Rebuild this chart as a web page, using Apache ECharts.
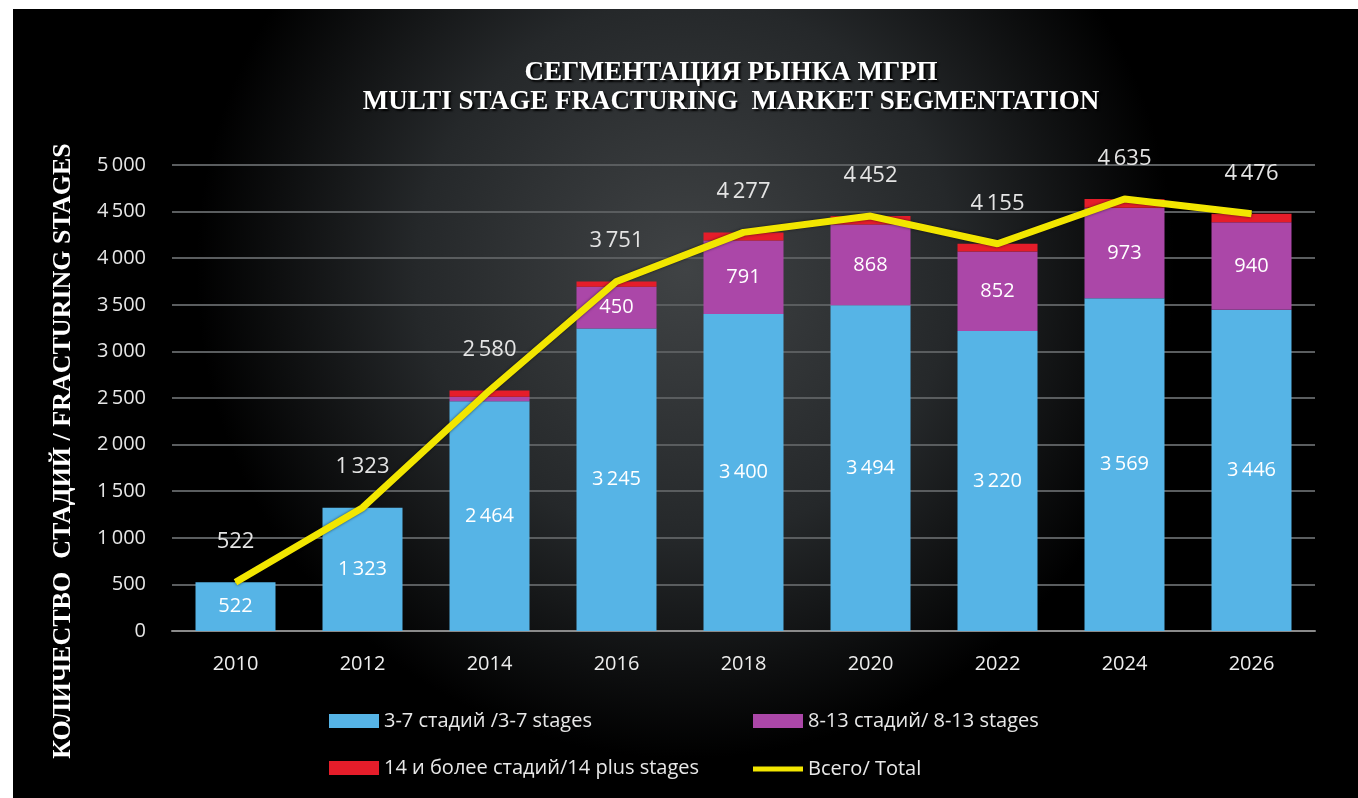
<!DOCTYPE html>
<html><head><meta charset="utf-8">
<script src="https://cdn.jsdelivr.net/npm/echarts@6/dist/echarts.min.js"></script>
<style>html,body{margin:0;padding:0;background:#fff;width:1358px;height:798px;overflow:hidden}
#c{position:absolute;left:13px;top:9px;width:1345px;height:789px}</style>
</head><body><div id="c"></div>
<script>
const years = ['2010','2012','2014','2016','2018','2020','2022','2024','2026'];
const stages3to7 = [522, 1323, 2464, 3245, 3400, 3494, 3220, 3569, 3446];
const stages8to13 = [0, 0, 50, 450, 791, 868, 852, 973, 940];
const stages14plus = [0, 0, 66, 56, 86, 90, 83, 93, 90];
const totals = [522, 1323, 2580, 3751, 4277, 4452, 4155, 4635, 4476];
const yTicks = [0, 500, 1000, 1500, 2000, 2500, 3000, 3500, 4000, 4500, 5000];

const names = ['3-7 стадий /3-7 stages', '8-13 стадий/ 8-13 stages', '14 и более стадий/14 plus stages', 'Всего/ Total'];
const colors = ['#56b4e6', '#ab47a8', '#e51d2a', '#f2e600'];
const fmt = v => String(v).replace(/\B(?=(\d{3})+(?!\d))/g, '\u2009');
const fontSans = '"Open Sans", "Noto Sans", sans-serif';
const fontSerif = '"Liberation Serif", "DejaVu Serif", serif';

const chart = echarts.init(document.getElementById('c'), null, {renderer: 'canvas'});
const legendBase = {
  orient: 'horizontal', itemWidth: 50, itemHeight: 14, itemGap: 6,
  textStyle: {color: '#e8e8e8', fontSize: 20, fontFamily: fontSans}
};
chart.setOption({
  backgroundColor: {
    type: 'radial', x: 0.5, y: 0.33, r: 0.62,
    colorStops: [{offset: 0, color: '#404345'}, {offset: 0.55, color: '#25282a'}, {offset: 1, color: '#000000'}]
  },
  graphic: [{
    type: 'text', x: 718, y: 50, z: 10,
    style: {
      text: 'СЕГМЕНТАЦИЯ РЫНКА МГРП\nMULTI STAGE FRACTURING  MARKET SEGMENTATION',
      fill: '#ffffff', font: 'bold 27px "Liberation Serif", "DejaVu Serif", serif',
      lineHeight: 29, align: 'center', verticalAlign: 'top',
      textShadowColor: '#000', textShadowBlur: 2, textShadowOffsetX: 2, textShadowOffsetY: 2
    }
  }],
  legend: [
    Object.assign({}, legendBase, {left: 311, top: 697, data: [{name: names[0], icon: 'rect'}]}),
    Object.assign({}, legendBase, {left: 735, top: 697, data: [{name: names[1], icon: 'rect'}]}),
    Object.assign({}, legendBase, {left: 311, top: 744, data: [{name: names[2], icon: 'rect'}]}),
    Object.assign({}, legendBase, {left: 735, top: 745, itemHeight: 5, data: [{name: names[3], icon: 'rect'}]})
  ],
  grid: {left: 159, right: 43, top: 156, bottom: 167},
  xAxis: {
    type: 'category', data: years,
    axisLine: {lineStyle: {color: '#8a8a8a', width: 2}},
    axisTick: {show: false},
    axisLabel: {color: '#eeeeee', fontSize: 20, fontFamily: fontSans, margin: 23}
  },
  yAxis: {
    type: 'value', min: 0, max: 5000, interval: 500,
    name: 'КОЛИЧЕСТВО  СТАДИЙ / FRACTURING STAGES',
    nameLocation: 'middle', nameGap: 96, nameRotate: 90,
    nameTextStyle: {color: '#ffffff', fontSize: 26, fontWeight: 'bold', fontFamily: fontSerif, padding: [0, 106, 0, 0]},
    axisLine: {show: false}, axisTick: {show: false},
    axisLabel: {color: '#e6e6e6', fontSize: 20, fontFamily: fontSans, margin: 26, formatter: v => fmt(v)},
    splitLine: {lineStyle: {color: '#5a5d5f', width: 2}}
  },
  series: [
    {
      name: names[0], type: 'bar', stack: 's', barWidth: 80, data: stages3to7,
      itemStyle: {color: colors[0]},
      label: {show: true, position: 'inside', color: '#ffffff', fontSize: 20, fontFamily: fontSans, formatter: p => fmt(p.value)}
    },
    {
      name: names[1], type: 'bar', stack: 's', barWidth: 80, data: stages8to13,
      itemStyle: {color: colors[1]},
      label: {show: true, position: 'inside', color: '#ffffff', fontSize: 20, fontFamily: fontSans,
        formatter: p => p.value >= 300 ? fmt(p.value) : ''}
    },
    {
      name: names[2], type: 'bar', stack: 's', barWidth: 80, data: stages14plus,
      itemStyle: {color: colors[2]}
    },
    {
      name: names[3], type: 'line', data: totals, symbol: 'circle', symbolSize: 1, showSymbol: true, z: 10,
      lineStyle: {color: colors[3], width: 7, shadowColor: 'rgba(0,0,0,0.6)', shadowBlur: 3},
      itemStyle: {color: colors[3]},
      label: {show: true, position: 'top', distance: 29, color: '#e4e4e4', fontSize: 22, fontFamily: fontSans,
        formatter: p => fmt(p.value)}
    }
  ]
});
</script></body></html>
